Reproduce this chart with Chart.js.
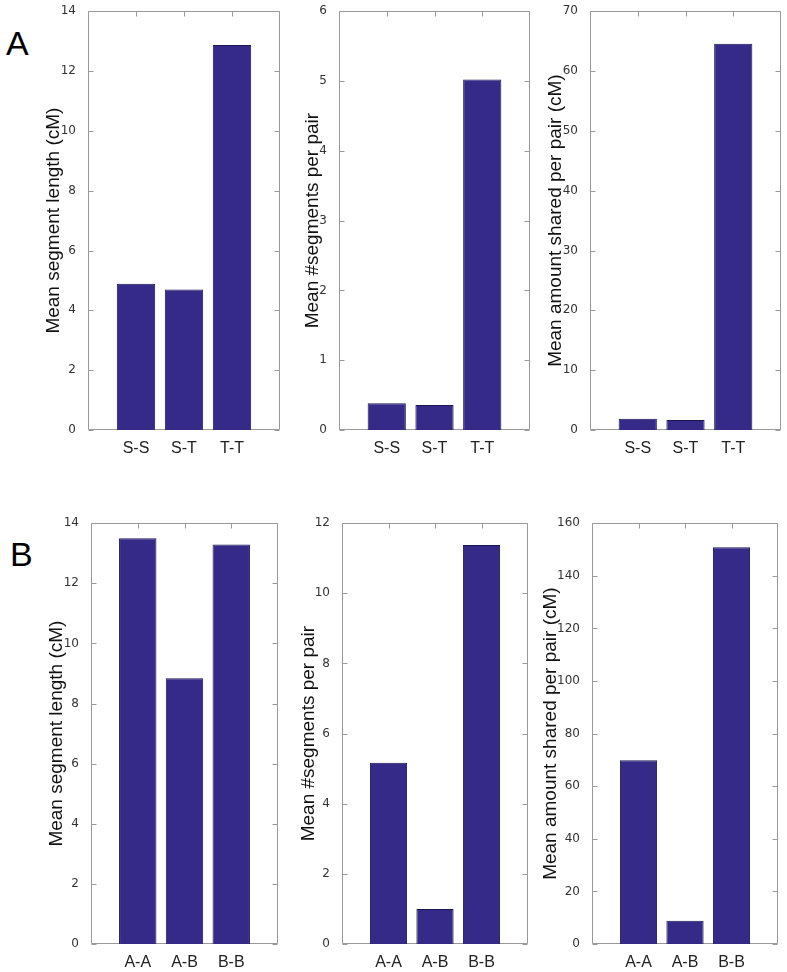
<!DOCTYPE html>
<html><head><meta charset="utf-8">
<script src="https://cdn.jsdelivr.net/npm/chart.js@4/dist/chart.umd.min.js"></script>
<style>
html,body{margin:0;padding:0;background:#fff}
body{width:787px;height:972px;position:relative;overflow:hidden}
canvas{position:absolute}
.lbl{position:absolute;font-family:'Liberation Sans',Arial,sans-serif;font-size:34px;line-height:34px;color:#000}
</style></head><body>
<div class="lbl" style="left:6px;top:26px">A</div>
<div class="lbl" style="left:10px;top:537px">B</div>
<canvas id="c1"></canvas><canvas id="c2"></canvas><canvas id="c3"></canvas>
<canvas id="c4"></canvas><canvas id="c5"></canvas><canvas id="c6"></canvas>
<script>
// ---- data ----
const catsA = ['S-S', 'S-T', 'T-T'];
const catsB = ['A-A', 'A-B', 'B-B'];
const lenA = [4.89, 4.70, 12.87];
const segA = [0.385, 0.357, 5.02];
const amtA = [1.88, 1.67, 64.55];
const lenB = [13.50, 8.84, 13.29];
const segB = [5.17, 1.00, 11.38];
const amtB = [69.9, 8.85, 150.9];
const titleLen = 'Mean segment length (cM)';
const titleSeg = 'Mean #segments per pair';
const titleAmt = 'Mean amount shared per pair (cM)';

// ---- layout ----
const YW = 60, XH = 30, PR = 6, PT = 10;
const BAR = '#352A87', BAR_EDGE = '#1c1650', AXIS = '#9a9a9a';

const boxPlugin = {
  id: 'box',
  beforeDatasetsDraw(chart) {
    const { ctx, chartArea: a, scales: { x, y } } = chart;
    ctx.save();
    ctx.strokeStyle = AXIS; ctx.lineWidth = 1;
    const l = Math.round(a.left) + 0.5, r = Math.round(a.right) - 0.5;
    const t = Math.round(a.top) + 0.5, b = Math.round(a.bottom) - 0.5;
    ctx.beginPath();
    ctx.rect(l, t, r - l, b - t);
    y.ticks.forEach(tk => {
      const py = Math.round(y.getPixelForValue(tk.value)) + 0.5;
      ctx.moveTo(l, py); ctx.lineTo(l + 5, py);
      ctx.moveTo(r, py); ctx.lineTo(r - 5, py);
    });
    x.ticks.forEach(tk => {
      if (tk.value <= x.min || tk.value >= x.max) return;
      const px = Math.round(x.getPixelForValue(tk.value)) + 0.5;
      ctx.moveTo(px, t); ctx.lineTo(px, t + 5);
      ctx.moveTo(px, b); ctx.lineTo(px, b - 5);
    });
    ctx.stroke();
    ctx.restore();
  }
};

function make(id, box, cats, vals, title, ymax, step) {
  const cv = document.getElementById(id);
  const w = YW + (box.R - box.L) + PR;
  const h = PT + (box.B - box.T) + XH;
  cv.width = w; cv.height = h;
  cv.style.left = (box.L - YW) + 'px';
  cv.style.top = (box.T - PT) + 'px';
  cv.style.width = w + 'px'; cv.style.height = h + 'px';
  const titleLH = 19 * 1.2;
  new Chart(cv, {
    type: 'bar',
    data: {
      datasets: [{
        data: vals.map((v, i) => ({ x: i + 1, y: v })),
        backgroundColor: BAR, borderColor: BAR_EDGE, borderWidth: 1,
        barPercentage: 0.8, categoryPercentage: 1
      }]
    },
    options: {
      responsive: false, animation: false, devicePixelRatio: 1,
      layout: { padding: { left: 0, top: PT, right: PR, bottom: 0 } },
      plugins: { legend: { display: false }, tooltip: { enabled: false } },
      scales: {
        x: {
          type: 'linear', min: 0, max: cats.length + 1, offset: false,
          grid: { display: false, offset: false }, border: { display: false },
          afterFit: s => { s.height = XH; },
          ticks: {
            stepSize: 1, autoSkip: false, maxRotation: 0, minRotation: 0, padding: 1,
            color: '#222', font: { family: "'Liberation Sans', Arial, sans-serif", size: 16 },
            callback: v => cats[v - 1] || ''
          }
        },
        y: {
          min: 0, max: ymax,
          grid: { display: false }, border: { display: false },
          afterFit: s => { s.width = YW; },
          ticks: {
            stepSize: step, padding: 4, color: '#333',
            font: { family: "'DejaVu Sans', Verdana, sans-serif", size: 12 }
          },
          title: {
            display: true, text: title, color: '#111',
            font: { family: "'Liberation Sans', Arial, sans-serif", size: 19 },
            padding: { top: YW - box.d - titleLH / 2, bottom: 0 }
          }
        }
      }
    },
    plugins: [boxPlugin]
  });
}

make('c1', { L: 88, R: 280, T: 10, B: 430, d: 34 }, catsA, lenA, titleLen, 14, 2);
make('c2', { L: 339, R: 530, T: 10, B: 430, d: 26.7 }, catsA, segA, titleSeg, 6, 1);
make('c3', { L: 590, R: 781, T: 10, B: 430, d: 34.2 }, catsA, amtA, titleAmt, 70, 10);
make('c4', { L: 91, R: 278, T: 522, B: 944, d: 34 }, catsB, lenB, titleLen, 14, 2);
make('c5', { L: 342, R: 528, T: 522, B: 944, d: 33 }, catsB, segB, titleSeg, 12, 2);
make('c6', { L: 592, R: 778, T: 522, B: 944, d: 41.4 }, catsB, amtB, titleAmt, 160, 20);
</script>
</body></html>
